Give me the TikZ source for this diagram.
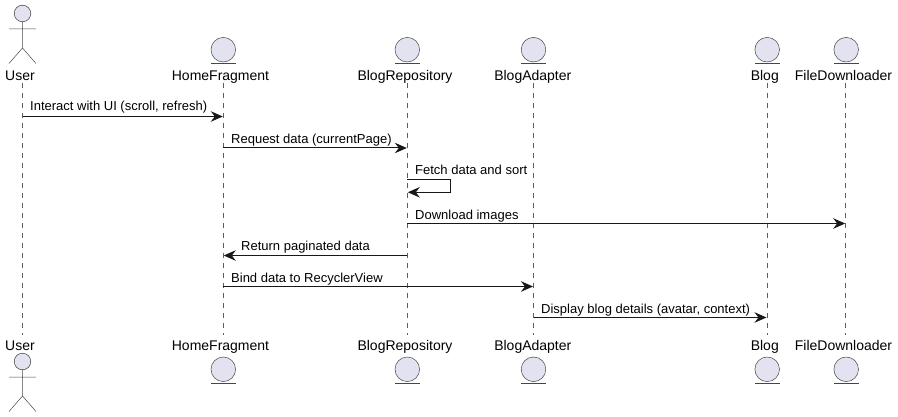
\documentclass[tikz,border=0pt]{standalone}
\usepackage{fontspec}
\setmainfont{Liberation Sans}
\usetikzlibrary{arrows.meta}
\definecolor{pfill}{HTML}{E2E2F0}
\definecolor{pline}{HTML}{181818}
\tikzset{
  x=1pt,y=-1pt,
  part/.style={font=\fontsize{14}{16}\selectfont,text=black,inner sep=0pt,anchor=base},
  msglabel/.style={font=\fontsize{13}{15}\selectfont,text=black,inner sep=0pt,anchor=base west},
  msg/.style={draw=pline,line width=1pt,-{Stealth[length=12pt,width=10.5pt,inset=4pt]},shorten >=0.5pt},
  lifeline/.style={draw=pline!70,line width=0.5pt,dash pattern=on 5pt off 5pt},
  shape line/.style={draw=pline!80,line width=0.5pt},
  shape body/.style={shape line,fill=pfill},
}
\begin{document}
\begin{tikzpicture}
\useasboundingbox (0,0) rectangle (898,417);
% top and bottom lifeline ends
\foreach \n/\x in {user/22.5,home/223.3,repo/407.3,adapter/533.5,blog/767,file/845.7}{
  \coordinate (\n T) at (\x,83);
  \coordinate (\n B) at (\x,335);
}
\foreach \n in {user,home,repo,adapter,blog,file}{
  \draw[lifeline] (\n T) -- (\n B);
}
% labels
\foreach \n/\x/\t in {user/20/User,home/220.5/HomeFragment,repo/405/BlogRepository,adapter/532.8/BlogAdapter,blog/764.8/Blog,file/843.5/FileDownloader}{
  \node[part] (\n Top) at (\x,80.5) {\t};
  \node[part] (\n Bot) at (\x,350) {\t};
}
% actors
\foreach \yo/\name in {0/Uone,348/Utwo}{
  \draw[shape body] (22.5,13.5+\yo) circle (8.3);
  \draw[shape line] (22.5,21.8+\yo) -- (22.5,48+\yo)
    (9,29+\yo) -- (36,29+\yo)
    (9,63.5+\yo) -- (22.5,48+\yo) -- (36,63.5+\yo);
}
% entities
\foreach \x in {223.3,407.3,533.5,767.2,846.2}{
  \draw[shape body] (\x,49.7) circle (12.3);
  \draw[shape line] (\x-12.3,63.3) -- (\x+12.3,63.3);
  \draw[shape body] (\x,369.3) circle (12.3);
  \draw[shape line] (\x-12.3,383.3) -- (\x+12.3,383.3);
}
% messages
\draw[msg] (userT |- 0,116.5) -- (homeT |- 0,116.5);
\node[msglabel] (m1) at (30,111) {Interact with UI (scroll, refresh)};
\draw[msg] (homeT |- 0,148) -- (repoT |- 0,148);
\node[msglabel] (m2) at (231,143.5) {Request data (currentPage)};
\coordinate (selfA) at ([xshift=43.5pt]repoT |- 0,179.5);
\coordinate (selfB) at ([xshift=43.5pt]repoT |- 0,192.3);
\draw[msg] (repoT |- 0,179.5) -- (selfA) -- (selfB) -- (repoT |- 0,192.3);
\node[msglabel] (m3) at (415,175) {Fetch data and sort};
\draw[msg] (repoT |- 0,223.5) -- (fileT |- 0,223.5);
\node[msglabel] (m4) at (415,220) {Download images};
\draw[msg] (repoT |- 0,255.5) -- (homeT |- 0,255.5);
\node[msglabel] (m5) at (241,251) {Return paginated data};
\draw[msg] (homeT |- 0,286.5) -- (adapterT |- 0,286.5);
\node[msglabel] (m6) at (231,282) {Bind data to RecyclerView};
\draw[msg] (adapterT |- 0,317.5) -- (blogT |- 0,317.5);
\node[msglabel] (m7) at (541,313) {Display blog details (avatar, context)};
\end{tikzpicture}
\end{document}
